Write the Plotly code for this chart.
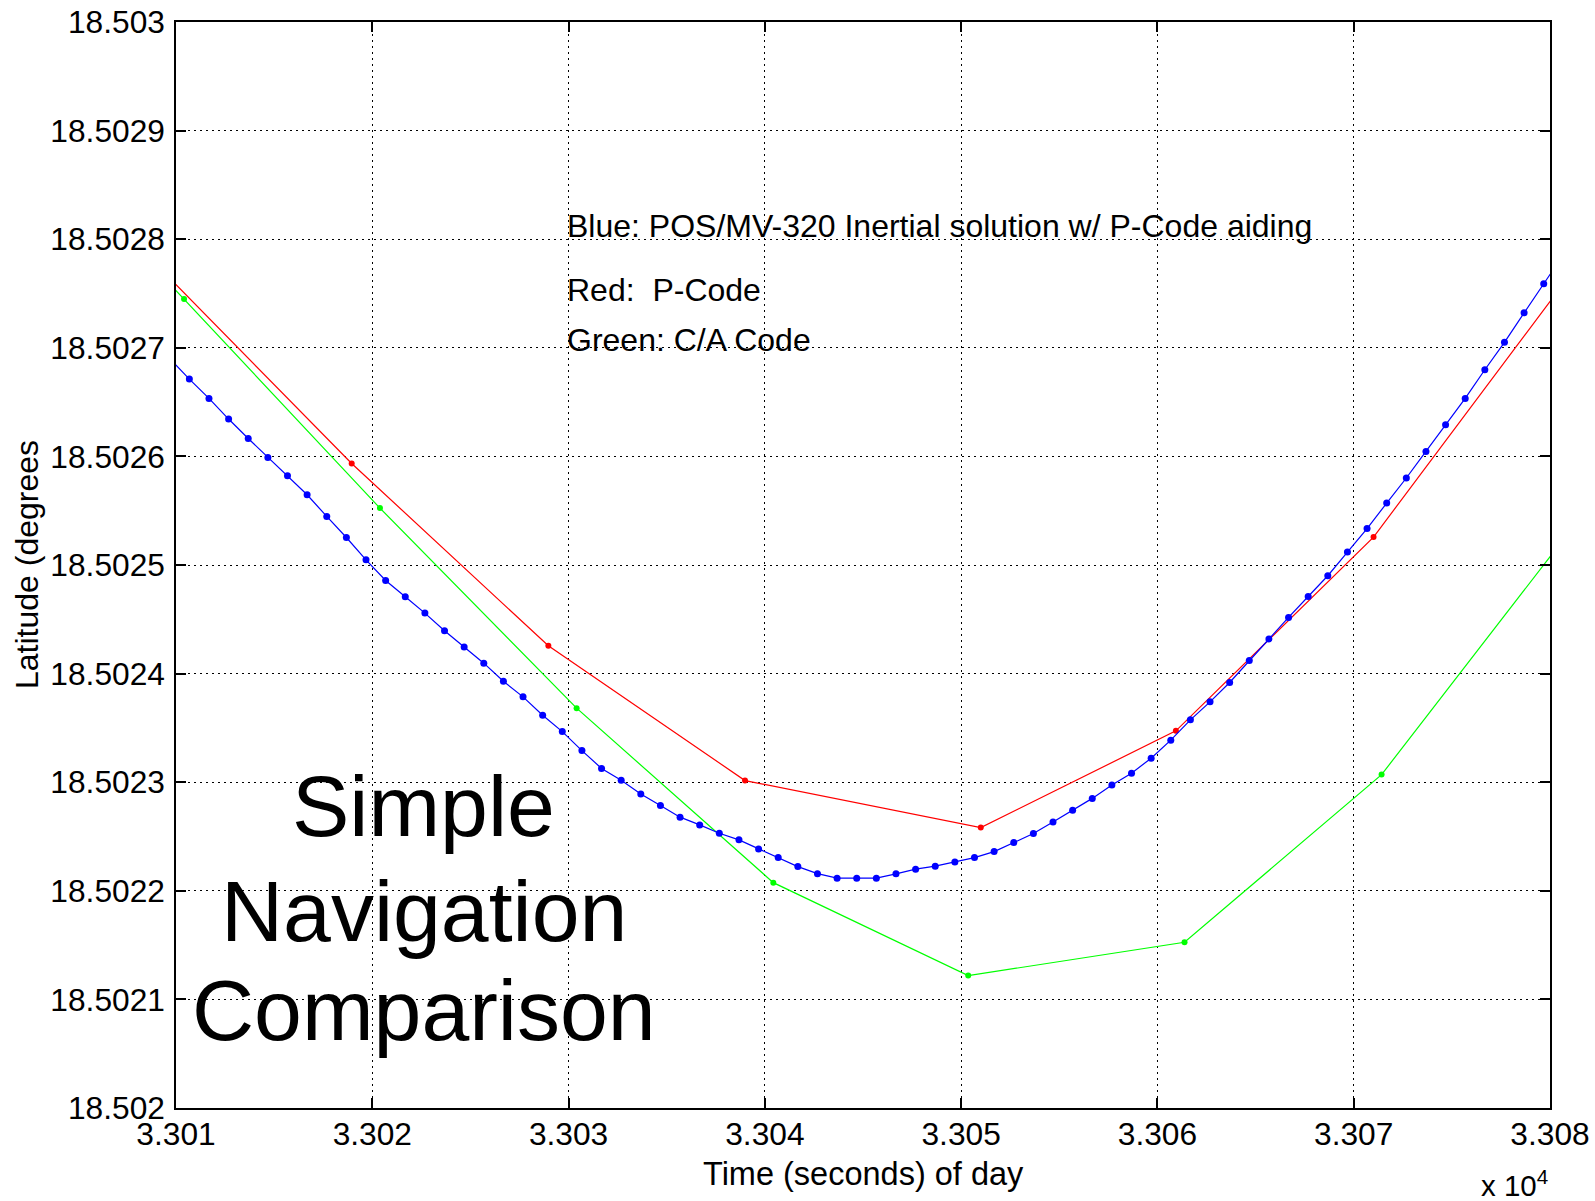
import plotly.graph_objects as go

# ---------------- data ----------------
x_tick_vals = [33010, 33020, 33030, 33040, 33050, 33060, 33070, 33080]
x_tick_text = ["3.301", "3.302", "3.303", "3.304", "3.305", "3.306", "3.307", "3.308"]
y_tick_vals = [18.5020, 18.5021, 18.5022, 18.5023, 18.5024, 18.5025, 18.5026, 18.5027, 18.5028, 18.5029, 18.5030]
y_tick_text = ["18.502", "18.5021", "18.5022", "18.5023", "18.5024", "18.5025",
               "18.5026", "18.5027", "18.5028", "18.5029", "18.503"]

# Blue: POS/MV-320 inertial solution (1 s samples)
blue_t = [33009.68, 33010.68, 33011.68, 33012.68, 33013.68, 33014.68, 33015.68, 33016.68,
          33017.68, 33018.68, 33019.68, 33020.68, 33021.68, 33022.68, 33023.68, 33024.68,
          33025.68, 33026.68, 33027.68, 33028.68, 33029.68, 33030.68, 33031.68, 33032.68,
          33033.68, 33034.68, 33035.68, 33036.68, 33037.68, 33038.68, 33039.68, 33040.68,
          33041.68, 33042.68, 33043.68, 33044.68, 33045.68, 33046.68, 33047.68, 33048.68,
          33049.68, 33050.68, 33051.68, 33052.68, 33053.68, 33054.68, 33055.68, 33056.68,
          33057.68, 33058.68, 33059.68, 33060.68, 33061.68, 33062.68, 33063.68, 33064.68,
          33065.68, 33066.68, 33067.68, 33068.68, 33069.68, 33070.68, 33071.68, 33072.68,
          33073.68, 33074.68, 33075.68, 33076.68, 33077.68, 33078.68, 33079.68, 33080.68]
blue_lat = [18.5026900, 18.5026712, 18.5026534, 18.5026344, 18.5026165, 18.5025990, 18.5025822,
            18.5025647, 18.5025447, 18.5025253, 18.5025048, 18.5024857, 18.5024707, 18.5024557,
            18.5024394, 18.5024246, 18.5024096, 18.5023929, 18.5023786, 18.5023617, 18.5023466,
            18.5023291, 18.5023127, 18.5023017, 18.5022892, 18.5022785, 18.5022678, 18.5022607,
            18.5022530, 18.5022469, 18.5022386, 18.5022306, 18.5022223, 18.5022158, 18.5022116,
            18.5022116, 18.5022116, 18.5022156, 18.5022199, 18.5022227, 18.5022266, 18.5022306,
            18.5022361, 18.5022444, 18.5022527, 18.5022634, 18.5022742, 18.5022851, 18.5022975,
            18.5023083, 18.5023221, 18.5023387, 18.5023574, 18.5023740, 18.5023918, 18.5024120,
            18.5024318, 18.5024517, 18.5024710, 18.5024901, 18.5025119, 18.5025336, 18.5025570,
            18.5025801, 18.5026046, 18.5026292, 18.5026534, 18.5026798, 18.5027050, 18.5027322,
            18.5027590, 18.5027857]

# Red: P-Code
red_t = [33008.95, 33018.95, 33028.97, 33038.99, 33051.00, 33060.94, 33071.01, 33081.01]
red_lat = [18.5027774, 18.5025935, 18.5024256, 18.5023015, 18.5022582, 18.5023473, 18.5025257, 18.5027671]

# Green: C/A Code
green_t = [33000.41, 33010.41, 33020.39, 33030.41, 33040.43, 33050.36, 33061.38, 33071.42, 33081.42]
green_lat = [18.5029374, 18.5027449, 18.5025524, 18.5023682, 18.5022075, 18.5021219, 18.5021526,
             18.5023070, 18.5025408]

legend_lines = ["Blue: POS/MV-320 Inertial solution w/ P-Code aiding",
                "Red:  P-Code",
                "Green: C/A Code"]
big_lines = ["Simple", "Navigation", "Comparison"]

FONT = "Liberation Sans, Arial, Helvetica, sans-serif"

fig = go.Figure()
fig.add_trace(go.Scatter(x=red_t, y=red_lat, mode="lines+markers",
                         line=dict(color="#ff0000", width=1.2),
                         marker=dict(color="#ff0000", size=6, symbol="circle")))
fig.add_trace(go.Scatter(x=green_t, y=green_lat, mode="lines+markers",
                         line=dict(color="#00ff00", width=1.2),
                         marker=dict(color="#00ff00", size=6, symbol="circle")))
fig.add_trace(go.Scatter(x=blue_t, y=blue_lat, mode="lines+markers",
                         line=dict(color="#0000ff", width=1.2),
                         marker=dict(color="#0000ff", size=7, symbol="circle")))

annotations = []
for txt, yv in zip(legend_lines, [18.502812, 18.502753, 18.502707]):
    annotations.append(dict(x=33029.8, y=yv, xref="x", yref="y", text=txt, showarrow=False,
                            xanchor="left", yanchor="middle",
                            font=dict(family=FONT, size=32, color="black")))
for txt, yv in zip(big_lines, [18.5022782, 18.5021814, 18.5020902]):
    annotations.append(dict(x=33022.63, y=yv, xref="x", yref="y", text=txt, showarrow=False,
                            xanchor="center", yanchor="middle",
                            font=dict(family=FONT, size=86, color="black")))
annotations.append(dict(x=0.5, y=0, xref="paper", yref="paper", text="Time (seconds) of day",
                        showarrow=False, xanchor="center", yanchor="middle", yshift=-66,
                        font=dict(family=FONT, size=32.5, color="black")))
annotations.append(dict(x=0, y=0.5, xref="paper", yref="paper", text="Latitude (degrees",
                        showarrow=False, xanchor="center", yanchor="middle", xshift=-149,
                        textangle=-90, font=dict(family=FONT, size=32, color="black")))
annotations.append(dict(x=1, y=0, xref="paper", yref="paper", text="x 10<sup>4</sup>",
                        showarrow=False, xanchor="right", yanchor="top", yshift=-55,
                        font=dict(family=FONT, size=29.5, color="black")))
fig.update_layout(annotations=annotations)

fig.update_layout(
    width=1595, height=1201,
    margin=dict(l=176, r=45, t=22, b=93, pad=0, autoexpand=False),
    paper_bgcolor="white", plot_bgcolor="white",
    showlegend=False,
    font=dict(family=FONT, size=31.5, color="black"),
)
axis_common = dict(showgrid=True, gridcolor="black", gridwidth=1, griddash="1.5px,4.5px",
                   showline=True, linecolor="black", linewidth=1.5, mirror="ticks",
                   ticks="inside", ticklen=10, tickcolor="black", tickwidth=1.5,
                   zeroline=False, automargin=False,
                   tickfont=dict(family=FONT, size=31.7, color="black"))
fig.update_xaxes(range=[33010, 33080], tickvals=x_tick_vals, ticktext=x_tick_text,
                 ticklabelstandoff=-3, **axis_common)
fig.update_yaxes(range=[18.502, 18.503], tickvals=y_tick_vals, ticktext=y_tick_text,
                 ticklabelstandoff=3, **axis_common)

fig.write_html("out.html", config={"displayModeBar": False},
               post_script="document.body.style.margin='0';document.body.style.padding='0';")
